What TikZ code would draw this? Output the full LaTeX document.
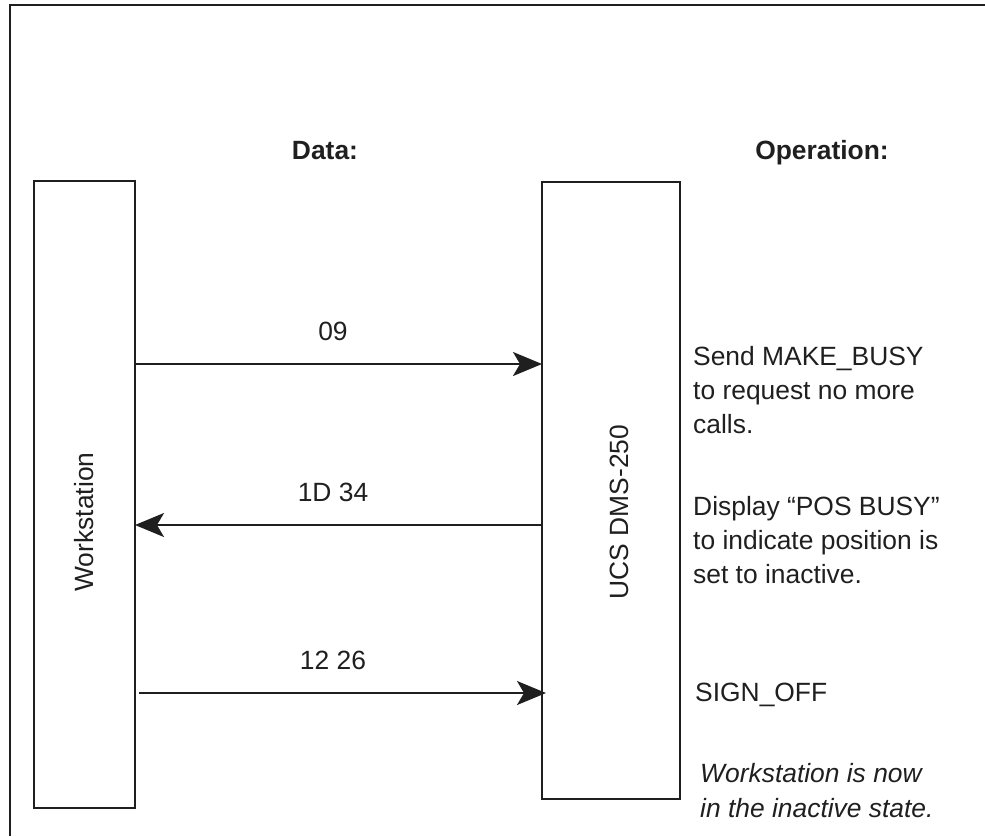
\documentclass[tikz,border=0pt]{standalone}
\usepackage{fontspec}
\setmainfont{Liberation Sans}
\usetikzlibrary{arrows.meta}
\tikzset{
  x=1pt, y=-1pt,
  line/.style={line width=2pt, draw=black!88},
  lifebox/.style={line, rectangle, inner sep=0pt, outer sep=0pt},
  msg/.style={line, -{Stealth[length=29pt, width=24pt, inset=7pt]}},
  txt/.style={inner sep=0pt, anchor=base west, font=\fontsize{26.4}{34}\selectfont, text=black!88},
  lbl/.style={inner sep=0pt, anchor=base, font=\fontsize{26.4}{34}\selectfont, text=black!88},
  head/.style={lbl, font=\fontsize{26.4}{34}\selectfont\bfseries},
  vtxt/.style={inner sep=0pt, rotate=90, font=\fontsize{26.4}{34}\selectfont, text=black!88},
  note/.style={txt, font=\fontsize{26.4}{34}\selectfont\itshape}
}
\begin{document}
\begin{tikzpicture}
\useasboundingbox (0,0) rectangle (985,836);
% frame (cropped)
\draw[line] (985,5) -- (10,5) -- (10,836);
% lifeline boxes
\node[lifebox, minimum width=101pt, minimum height=627pt] (ws) at (84.5,494.5) {};
\node[lifebox, minimum width=138pt, minimum height=617pt] (ucs) at (611,490.5) {};
\node[vtxt] (wslbl) at (84,522) {Workstation};
\node[vtxt] (ucslbl) at (619,512) {UCS DMS-250};
% headings
\node[head] (hdata) at (325,159) {Data:};
\node[head] (hop) at (822,159) {Operation:};
% messages
\coordinate (m1) at (0,364);
\coordinate (m2) at (0,525);
\coordinate (m3) at (0,693);
\coordinate (s3) at (139,693);
\coordinate (t3) at (546,693);
\draw[msg] (ws.east |- m1) -- (ucs.west |- m1);
\draw[msg] (ucs.west |- m2) -- (ws.east |- m2);
\draw[msg] (s3) -- (t3);
\node[lbl] (l1) at (333,340) {09};
\node[lbl] (l2) at (333,501) {1D 34};
\node[lbl] (l3) at (333,669) {12 26};
% operations
\node[txt] (o1a) at (693,365) {Send MAKE\_BUSY};
\node[txt] (o1b) at (693,399) {to request no more};
\node[txt] (o1c) at (693,433) {calls.};
\node[txt] (o2a) at (693,515) {Display “POS BUSY”};
\node[txt] (o2b) at (693,549) {to indicate position is};
\node[txt] (o2c) at (693,583) {set to inactive.};
\node[txt] (o3) at (695,701) {SIGN\_OFF};
\node[note] (n1) at (700,782) {Workstation is now};
\node[note] (n2) at (700,817) {in the inactive state.};
\end{tikzpicture}
\end{document}
